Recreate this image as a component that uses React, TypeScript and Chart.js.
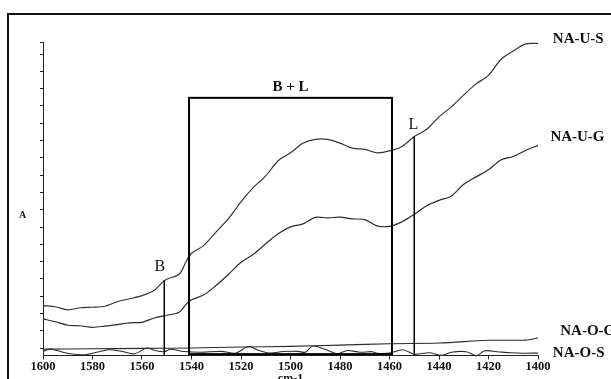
import React, { useEffect, useRef } from "react";
import { Chart, registerables } from "chart.js";

Chart.register(...registerables);

// ---- data (wavenumber in cm-1, absorbance in arbitrary tick units) ----
const US_X = [1600, 1595, 1590, 1585, 1580, 1575, 1570, 1565, 1560, 1555, 1552, 1550, 1545, 1542, 1540, 1535, 1530, 1525, 1520, 1515, 1510, 1505, 1500, 1495, 1490, 1485, 1480, 1475, 1470, 1465, 1460, 1455, 1450, 1445, 1440, 1435, 1430, 1425, 1420, 1415, 1410, 1405, 1400];
const US_Y = [2.46, 2.39, 2.21, 2.33, 2.36, 2.42, 2.68, 2.85, 3.03, 3.34, 3.77, 3.98, 4.27, 5.05, 5.48, 5.94, 6.72, 7.5, 8.46, 9.29, 9.96, 10.83, 11.29, 11.84, 12.07, 12.07, 11.85, 11.56, 11.49, 11.29, 11.4, 11.66, 12.23, 12.65, 13.37, 13.95, 14.64, 15.28, 15.77, 16.69, 17.18, 17.59, 17.62];

const UG_X = [1600, 1595, 1590, 1585, 1580, 1575, 1570, 1565, 1560, 1555, 1550, 1545, 1542, 1540, 1535, 1530, 1525, 1520, 1515, 1510, 1505, 1500, 1495, 1490, 1485, 1480, 1475, 1470, 1465, 1460, 1455, 1450, 1445, 1440, 1435, 1430, 1425, 1420, 1415, 1410, 1405, 1400];
const UG_Y = [1.69, 1.52, 1.32, 1.29, 1.2, 1.27, 1.36, 1.46, 1.49, 1.74, 1.9, 2.07, 2.56, 2.79, 3.08, 3.63, 4.27, 4.96, 5.42, 6.03, 6.61, 7.01, 7.18, 7.56, 7.53, 7.57, 7.47, 7.43, 7.07, 7.04, 7.3, 7.73, 8.23, 8.54, 8.8, 9.47, 9.9, 10.31, 10.88, 11.08, 11.43, 11.72];

const OG_X = [1600, 1580, 1560, 1540, 1520, 1500, 1480, 1460, 1440, 1420, 1410, 1405, 1400];
const OG_Y = [-0.06, -0.04, -0.02, 0, 0.06, 0.1, 0.17, 0.25, 0.29, 0.45, 0.45, 0.46, 0.58];

const OS_X = [1600, 1597, 1593, 1589, 1583, 1577, 1573, 1568, 1563, 1558, 1555, 1551, 1548.5, 1543, 1536, 1528, 1522, 1517, 1513, 1508, 1503, 1497, 1494, 1491, 1486, 1481, 1477, 1472, 1467, 1465, 1460, 1454.5, 1450, 1444, 1439, 1435, 1429, 1425, 1421.5, 1416.5, 1411, 1406, 1400];
const OS_Y = [-0.19, -0.06, -0.2, -0.33, -0.39, -0.2, -0.1, -0.2, -0.33, 0, -0.13, -0.21, -0.07, -0.2, -0.24, -0.19, -0.29, 0.09, -0.13, -0.29, -0.2, -0.19, -0.24, 0.12, -0.07, -0.33, -0.14, -0.24, -0.21, -0.3, -0.29, -0.1, -0.36, -0.27, -0.42, -0.24, -0.21, -0.45, -0.16, -0.21, -0.27, -0.3, -0.29];

const SERIES_NAMES = ["NA-U-S", "NA-U-G", "NA-O-G", "NA-O-S"];
const SERIES_LABEL_X = [1394, 1395, 1391, 1394];
const SERIES_LABEL_Y = [17.85, 12.21, 1.0, -0.3];

const X_MIN = 1400;
const X_MAX = 1600;
const X_STEP = 20;
const Y_MIN = -0.43;
const Y_MAX = 17.66;
const Y_TICKS = [0, 1, 2, 3, 4, 5, 6, 7, 8, 9, 10, 11, 12, 13, 14, 15, 16, 17, 17.66];

// region B + L box and band markers
const BOX_X = [1541, 1459];
const BOX_Y = [-0.35, 14.47];
const BOX_LABEL = "B + L";
const MARK_NAMES = ["B", "L"];
const MARK_X = [1551, 1450];
const MARK_TOP = [3.92, 12.25];
const MARK_LABEL_X = [1552.8, 1450.3];
const MARK_LABEL_Y = [4.7, 12.91];

const SERIF = '"Liberation Serif", "Times New Roman", serif';

const pts = (xs: number[], ys: number[]) => xs.map((x, i) => ({ x, y: ys[i] }));

const annotPlugin = {
  id: "annot",
  afterDatasetsDraw(chart: any) {
    const { ctx } = chart;
    const x = chart.scales.x;
    const y = chart.scales.y;
    ctx.save();
    // outer frame
    ctx.strokeStyle = "#111";
    ctx.lineWidth = 2;
    ctx.strokeRect(8, 14, 700, 500);

    // box
    const bx1 = x.getPixelForValue(BOX_X[0]);
    const bx2 = x.getPixelForValue(BOX_X[1]);
    const by1 = y.getPixelForValue(BOX_Y[1]);
    const by2 = y.getPixelForValue(BOX_Y[0]);
    ctx.lineWidth = 2;
    ctx.strokeStyle = "#000";
    ctx.strokeRect(bx1, by1, bx2 - bx1, by2 - by1);
    ctx.fillStyle = "#111";
    ctx.font = `bold 15px ${SERIF}`;
    ctx.textAlign = "center";
    ctx.textBaseline = "middle";
    ctx.fillText(BOX_LABEL, (bx1 + bx2) / 2, by1 - 11);

    // marker lines
    ctx.lineWidth = 1.5;
    MARK_NAMES.forEach((name, i) => {
      const px = x.getPixelForValue(MARK_X[i]);
      ctx.beginPath();
      ctx.moveTo(px, y.getPixelForValue(MARK_TOP[i]));
      ctx.lineTo(px, y.getPixelForValue(Y_MIN));
      ctx.stroke();
      ctx.font = `16px ${SERIF}`;
      ctx.textAlign = "center";
      ctx.textBaseline = "middle";
      ctx.fillText(name, x.getPixelForValue(MARK_LABEL_X[i]), y.getPixelForValue(MARK_LABEL_Y[i]));
    });

    // series labels
    SERIES_NAMES.forEach((name, i) => {
      ctx.font = `bold 15px ${SERIF}`;
      ctx.textAlign = "left";
      ctx.textBaseline = "middle";
      ctx.fillText(name, x.getPixelForValue(SERIES_LABEL_X[i]), y.getPixelForValue(SERIES_LABEL_Y[i]));
    });

    // axis titles
    ctx.font = `bold 10px ${SERIF}`;
    ctx.textAlign = "center";
    ctx.textBaseline = "middle";
    ctx.fillText("A", 22.5, (y.top + y.bottom) / 2 + 16);
    ctx.font = `bold 12px ${SERIF}`;
    ctx.textBaseline = "top";
    ctx.fillText("cm-1", (x.left + x.right) / 2, 373);
    ctx.restore();
  },
};

export default function App() {
  const ref = useRef<HTMLCanvasElement | null>(null);
  useEffect(() => {
    if (!ref.current) return;
    const common = { pointRadius: 0, fill: false, tension: 0.3, clip: false as any };
    const chart = new Chart(ref.current, {
      type: "line",
      data: {
        datasets: [
          { label: SERIES_NAMES[0], data: pts(US_X, US_Y), borderColor: "#472c2c", borderWidth: 1.2, ...common },
          { label: SERIES_NAMES[1], data: pts(UG_X, UG_Y), borderColor: "#2b2b2b", borderWidth: 1.2, ...common },
          { label: SERIES_NAMES[2], data: pts(OG_X, OG_Y), borderColor: "#2b2b2b", borderWidth: 1.1, ...common },
          { label: SERIES_NAMES[3], data: pts(OS_X, OS_Y), borderColor: "#2b2b2b", borderWidth: 1.1, ...common },
        ],
      },
      options: {
        animation: false,
        responsive: true,
        maintainAspectRatio: false,
        layout: { padding: { top: 42.7, right: 73, left: 0, bottom: 0 } },
        plugins: { legend: { display: false }, tooltip: { enabled: false } },
        scales: {
          x: {
            type: "linear",
            reverse: true,
            min: X_MIN,
            max: X_MAX,
            ticks: {
              stepSize: X_STEP,
              color: "#111",
              font: { family: SERIF, size: 12.5, weight: "bold" },
              padding: 0,
              maxRotation: 0,
              callback: (v: any) => String(v),
            },
            grid: { drawOnChartArea: false, drawTicks: true, tickLength: 4, color: "#222" },
            border: { display: true, color: "#222", width: 1 },
            afterFit: (s: any) => { s.height = 379 - 355.5; },
          },
          y: {
            type: "linear",
            min: Y_MIN,
            max: Y_MAX,
            afterBuildTicks: (s: any) => { s.ticks = Y_TICKS.map((v) => ({ value: v })); },
            ticks: { display: false },
            grid: { drawOnChartArea: false, drawTicks: true, tickLength: 3, color: "#222" },
            border: { display: true, color: "#222", width: 1 },
            afterFit: (s: any) => { s.width = 43; },
          },
        },
      },
      plugins: [annotPlugin],
    });
    return () => chart.destroy();
  }, []);
  return (
    <div style={{ position: "fixed", left: 0, top: 0, width: 611, height: 379, background: "#fff" }}>
      <canvas ref={ref} />
    </div>
  );
}
